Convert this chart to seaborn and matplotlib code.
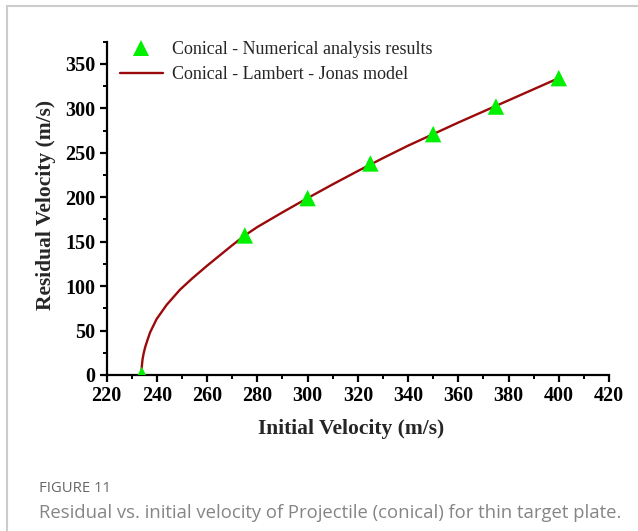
import matplotlib
matplotlib.use("Agg")
import matplotlib.pyplot as plt
import matplotlib.lines as mlines
from matplotlib.ticker import MultipleLocator
import seaborn as sns
import pandas as pd

# Numerical analysis results (points)
vi_points = [234, 275, 300, 325, 350, 375, 400]
vr_points = [0, 157, 199, 238, 271, 302, 334]

# Lambert - Jonas model curve
vi_curve = [233.8, 234.0, 234.3, 234.7, 235.3, 236.2, 237.3, 239.9, 243.9, 249.2, 254, 260,
            265, 270, 275, 280, 290, 300, 310, 320, 330, 340, 350, 360, 370, 380, 390, 400]
vr_curve = [0, 10, 18, 24, 31, 39, 48, 63, 79, 96, 108.5, 123,
            134.5, 146, 157, 166.5, 183, 199, 214.5, 229.5, 244, 258, 271, 284, 296.5, 309, 321.5, 334]

label_points = "Conical - Numerical analysis results"
label_curve = "Conical - Lambert - Jonas model"
x_label = "Initial Velocity (m/s)"
y_label = "Residual Velocity (m/s)"
fig_label = "FIGURE 11"
caption = "Residual vs. initial velocity of Projectile (conical) for thin target plate."

sns.set_theme(style="ticks")
plt.rcParams['font.family'] = ['Liberation Serif', 'DejaVu Serif']

df_pts = pd.DataFrame({"vi": vi_points, "vr": vr_points})
df_cur = pd.DataFrame({"vi": vi_curve, "vr": vr_curve})

fig = plt.figure(figsize=(6.38, 5.31), dpi=100)
ax = fig.add_axes([0.1672, 0.2938, 0.9545 - 0.1672, 0.9215 - 0.2938])

line_color = "#9B0A0A"
marker_color = "#00F000"

sns.lineplot(data=df_cur, x="vi", y="vr", ax=ax, color=line_color, linewidth=1.7,
             sort=False, zorder=2)
sns.scatterplot(data=df_pts, x="vi", y="vr", ax=ax, marker="^", s=140,
                color=marker_color, edgecolor="none", linewidth=0, zorder=3)

ax.set_xlim(220, 420)
ax.set_ylim(0, 375)
ax.xaxis.set_major_locator(MultipleLocator(20))
ax.xaxis.set_minor_locator(MultipleLocator(10))
ax.yaxis.set_major_locator(MultipleLocator(50))
ax.yaxis.set_minor_locator(MultipleLocator(25))

sns.despine(ax=ax)
for sp in ("left", "bottom"):
    ax.spines[sp].set_linewidth(1.6)
    ax.spines[sp].set_color("black")

ax.tick_params(axis="both", which="major", direction="out", length=5, width=1.6,
               colors="black", labelsize=14.5, pad=3)
ax.tick_params(axis="both", which="minor", direction="out", length=3, width=1.4,
               colors="black")
for lab in ax.get_xticklabels() + ax.get_yticklabels():
    lab.set_fontweight("bold")

ax.set_xlabel(x_label, fontsize=15.5, fontweight="bold")
ax.set_ylabel(y_label, fontsize=15.5, fontweight="bold")
ax.xaxis.set_label_coords(0.486, -0.132)
ax.yaxis.set_label_coords(-0.101, 0.51)

h1 = mlines.Line2D([], [], color=marker_color, marker="^", linestyle="none",
                   markersize=12, markeredgewidth=0)
h2 = mlines.Line2D([], [], color=line_color, linewidth=1.7)
leg = ax.legend([h1, h2], [label_points, label_curve], loc="upper left",
                bbox_to_anchor=(0.026, 1.001), frameon=False, fontsize=13,
                handlelength=2.4, handletextpad=0.5, labelspacing=0.42,
                borderaxespad=0, borderpad=0)

# page frame lines
fig.add_artist(mlines.Line2D([6.5 / 638, 6.5 / 638], [0, 1 - 6 / 531],
                             color="#cccccc", linewidth=1.5, transform=fig.transFigure))
fig.add_artist(mlines.Line2D([6.5 / 638, 1], [1 - 6 / 531, 1 - 6 / 531],
                             color="#cccccc", linewidth=1.5, transform=fig.transFigure))

fig.text(39 / 638, 1 - 489 / 531, fig_label, fontsize=10.7, color="#666666",
         family=["Open Sans", "DejaVu Sans"], va="center", ha="left")
fig.text(39 / 638, 1 - 513 / 531, caption, fontsize=13.3, color="#858585",
         family=["Open Sans", "DejaVu Sans"], va="center", ha="left")

fig.savefig("out.png", dpi=100)
